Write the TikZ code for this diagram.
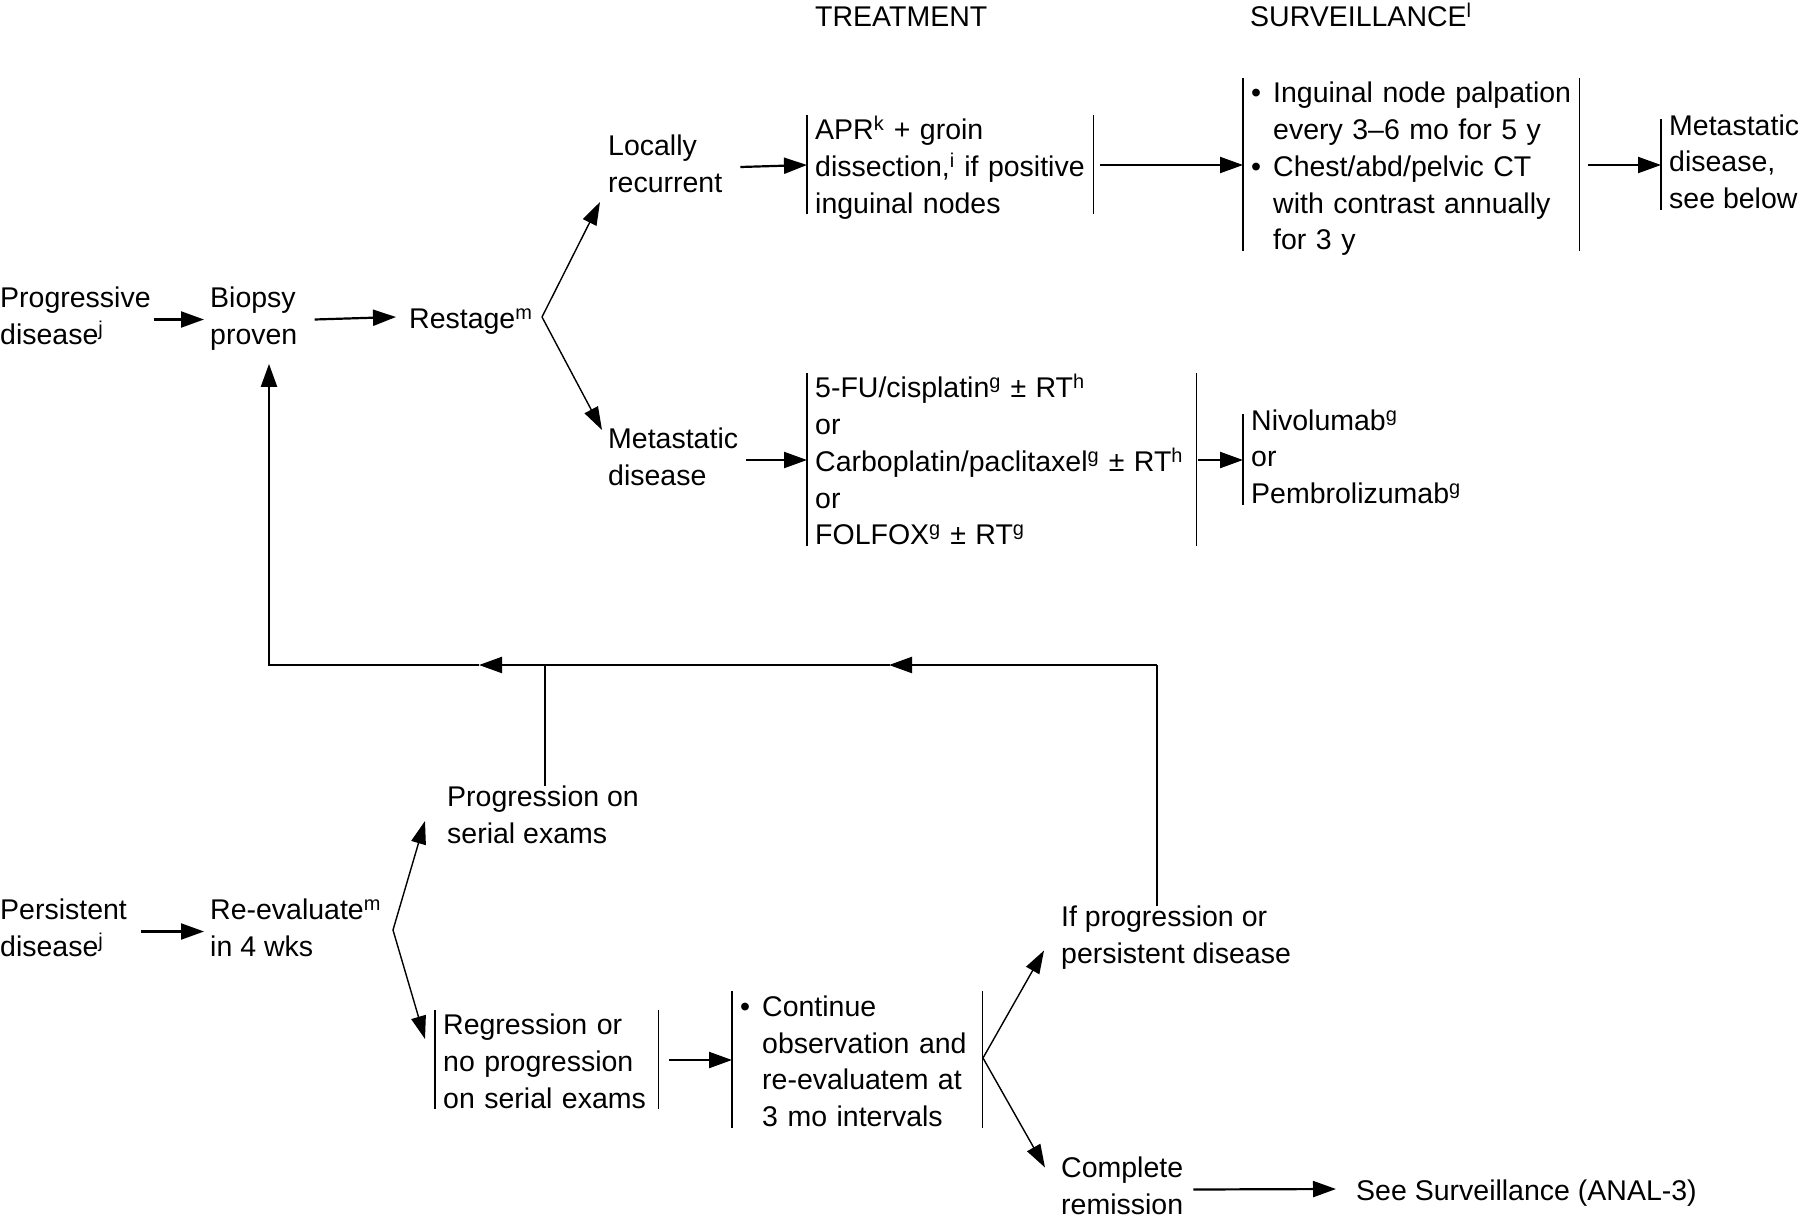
\documentclass[tikz,border=0pt]{standalone}
\usepackage{fontspec}
\setmainfont{Liberation Sans}
\usetikzlibrary{arrows.meta}
\newcommand{\myblt}{\makebox[22pt][l]{•}}
\newcommand{\myind}{\hspace*{22pt}}
\newcommand{\mystrut}{\rule[-7pt]{0pt}{36.7pt}}
\begin{document}
\begin{tikzpicture}[x=1pt,y=-1pt,
  txt/.style={font=\fontsize{28.5}{36.7}\selectfont, align=left, inner sep=0pt, anchor=west,
     execute at begin node=\mystrut, execute at end node=\mystrut},
  bx/.style={txt, inner xsep=8pt},
  bar/.style={line width=1.4pt},
  arr/.style={line width=2.2pt, -{Triangle[length=23pt,width=16pt]}},
  darr/.style={line width=1.4pt, -{Triangle[length=23pt,width=15pt]}},
  lnk/.style={line width=2.2pt, line cap=rect},
  stub/.style={line width=1.4pt}]
\useasboundingbox (0,0) rectangle (1800,1218);

% headings
\node[txt] (treat) at (815,15) {TREATMENT};
\node[txt] (surv) at (1250,15) {SURVEILLANCE\textsuperscript{l}};

% upper part
\node[txt] (prog) at (0,319.5) {Progressive\\disease\textsuperscript{j}};
\node[txt] (biopsy) at (210,319.5) {Biopsy\\proven};
\node[txt] (restage) at (409,317) {Restage\textsuperscript{m}};
\node[txt] (locrec) at (608,167) {Locally\\recurrent};
\node[bx, text width=270pt] (apr) at (807,165) {APR\textsuperscript{k} + groin\\dissection,\textsuperscript{i} if positive\\inguinal nodes};
\node[bx, text width=320pt] (sv) at (1243,165) {\myblt Inguinal node palpation\\\myind every 3–6 mo for 5 y\\\myblt Chest/abd/pelvic CT\\\myind with contrast annually\\\myind for 3 y};
\node[bx] (metsee) at (1661,165) {Metastatic\\disease,\\see below};
\node[txt] (metdis) at (608,460) {Metastatic\\disease};
\node[bx, text width=373pt] (chemo) at (807,460) {5-FU/cisplatin\textsuperscript{g} ± RT\textsuperscript{h}\\or\\Carboplatin/paclitaxel\textsuperscript{g} ± RT\textsuperscript{h}\\or\\FOLFOX\textsuperscript{g} ± RT\textsuperscript{g}};
\node[bx] (nivo) at (1243,460) {Nivolumab\textsuperscript{g}\\or\\Pembrolizumab\textsuperscript{g}};

% lower part
\node[txt] (progser) at (447,818) {Progression on\\serial exams};
\node[txt] (persist) at (0,931.5) {Persistent\\disease\textsuperscript{j}};
\node[txt] (reeval) at (210,931.5) {Re-evaluate\textsuperscript{m}\\in 4 wks};
\node[bx, text width=207pt] (regr) at (435,1060) {Regression or\\no progression\\on serial exams};
\node[bx, text width=234pt] (cont) at (732,1060) {\myblt Continue\\\myind observation and\\\myind re-evaluatem at\\\myind 3 mo intervals};
\node[txt] (ifprog) at (1061,938.5) {If progression or\\persistent disease};
\node[txt] (compl) at (1061,1189.5) {Complete\\remission};
\node[txt] (seesurv) at (1356,1189) {See Surveillance (ANAL-3)};

% bars
\foreach \n in {apr,sv,chemo,regr,cont}{
  \draw[bar] ([yshift=-5pt]\n.north west) -- ([yshift=6pt]\n.south west);
  \draw[bar] ([yshift=-5pt]\n.north east) -- ([yshift=6pt]\n.south east);
}
\foreach \n in {metsee,nivo}{
  \draw[bar] ([yshift=-5pt]\n.north west) -- ([yshift=6pt]\n.south west);
}

% horizontal arrows
\draw[arr] ([xshift=3pt]prog.east) -- ([xshift=-6pt]biopsy.west);
\draw[arr] ([xshift=17pt]biopsy.east) -- ([xshift=-13pt]restage.west);
\draw[arr] ([xshift=18pt]locrec.east) -- (apr.west);
\draw[arr] ([xshift=7pt]apr.east) -- (sv.west);
\draw[arr] ([xshift=9pt]sv.east) -- (metsee.west);
\draw[arr] ([xshift=8pt]metdis.east) -- (chemo.west);
\draw[arr] ([xshift=2pt]chemo.east) -- (nivo.west);
\draw[arr] ([xshift=14pt]persist.east) -- ([xshift=-6pt]reeval.west);
\draw[arr] ([xshift=11pt]regr.east) -- (cont.west);
\draw[arr] ([xshift=10pt]compl.east) -- ([xshift=-20pt]seesurv.west);

% branches
\coordinate (rb) at (542,317);
\draw[darr] (rb) -- ([xshift=-8pt,yshift=-35pt]locrec.west);
\draw[darr] (rb) -- ([xshift=-6pt,yshift=30pt]metdis.west);
\coordinate (eb) at (393,930);
\draw[darr] (eb) -- ([xshift=-22pt,yshift=-3pt]progser.west);
\draw[darr] (eb) -- ([xshift=-10pt,yshift=21pt]regr.west);
\coordinate (cb) at (983,1058);
\draw[darr] (cb) -- ([xshift=-17pt,yshift=-12pt]ifprog.west);
\draw[darr] (cb) -- ([xshift=-16pt,yshift=22pt]compl.west);

% feedback loop
\coordinate (jR) at (1157,665);
\coordinate (jM) at (545,665);
\coordinate (jL) at (269,665);
\coordinate (a1) at (889,665);
\coordinate (a2) at (479,665);
\draw[stub] (ifprog.north -| jR) -- (jR);
\draw[stub] (progser.north -| jM) -- (jM);
\draw[arr] (jR) -- (a1);
\draw[lnk] (a1) -- (jM);
\draw[arr] (jM) -- (a2);
\draw[arr, line cap=butt] (a2) -- (jL) -- ([yshift=-12pt]biopsy.south -| jL);
\end{tikzpicture}
\end{document}
